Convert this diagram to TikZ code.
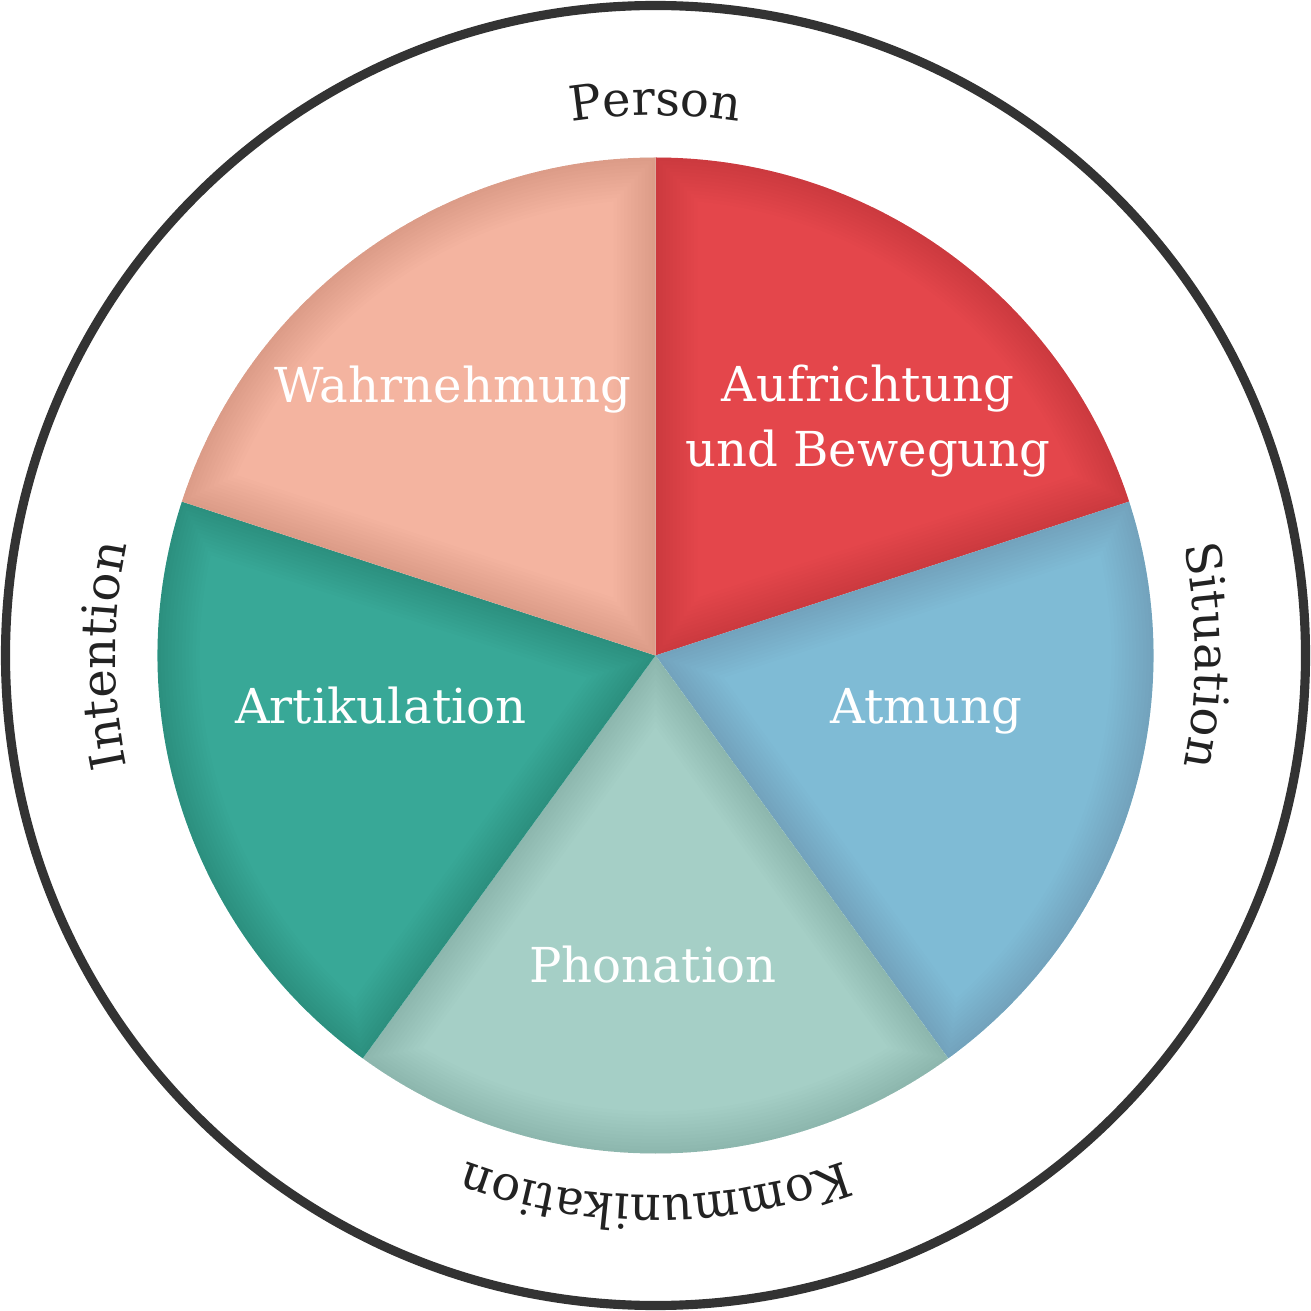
\documentclass[tikz,border=0pt]{standalone}
\usepackage{fontspec}
\setmainfont{DejaVu Serif}
\usetikzlibrary{decorations.text}
\definecolor{cRed}{HTML}{E4464B}
\definecolor{cPeach}{HTML}{F4B4A0}
\definecolor{cBlue}{HTML}{7FBBD5}
\definecolor{cLtTeal}{HTML}{A5CFC6}
\definecolor{cTeal}{HTML}{38A897}
\definecolor{cDark}{HTML}{333333}
\definecolor{cText}{HTML}{222222}
\newcommand{\lblfont}{\fontsize{13.7}{18.5}\selectfont}
\newcommand{\sectorpath}[2]{(0,0) -- (#1:\R) arc[start angle=#1, end angle=#2, radius=\R] -- cycle}
\newcommand{\drawsector}[3]{%
  \fill[#3] \sectorpath{#1}{#2};
  \begin{scope}
    \clip \sectorpath{#1}{#2};
    \foreach \w in {2,4,...,24} {
      \draw[line width=\w pt, black, opacity=0.007, line join=round] \sectorpath{#1}{#2};
    }
  \end{scope}}
\tikzset{
  inlabel/.style={text=white, font=\lblfont, align=center, inner sep=0pt},
  outerring/.style={draw=cDark, line width=2.6pt},
  arclabel/.style={decorate, decoration={text along path, text align=center,
      text format delimiters={|}{|}, text={|\lblfont\color{cText}|#1}}}
}
\begin{document}
\begin{tikzpicture}
\useasboundingbox (-6.555,-6.555) rectangle (6.555,6.555);
\def\R{4.98}
% outer ring
\draw[outerring] (0,0) circle[radius=6.5];
% sectors
\drawsector{18}{90}{cRed}
\drawsector{-54}{18}{cBlue}
\drawsector{-126}{-54}{cLtTeal}
\drawsector{162}{234}{cTeal}
\drawsector{90}{162}{cPeach}
% inner labels
\node[inlabel, anchor=base] (wahr) at (-2.025,2.525) {Wahrnehmung};
\node[inlabel, anchor=center] (aufr) at (2.125,2.345) {Aufrichtung\\und Bewegung};
\node[inlabel, anchor=base] (atm) at (2.705,-0.675) {Atmung};
\node[inlabel, anchor=base] (art) at (-2.745,-0.675) {Artikulation};
\node[inlabel, anchor=base] (phon) at (-0.025,-3.265) {Phonation};
% outer labels along the ring (clockwise, tops outward)
\path[arclabel={Person}] (120:5.40) arc[start angle=120, end angle=60, radius=5.40];
\path[arclabel={Situation}] (30:5.40) arc[start angle=30, end angle=-30, radius=5.40];
\path[arclabel={Kommunikation}] (300:5.40) arc[start angle=300, end angle=240, radius=5.40];
\path[arclabel={Intention}] (210:5.40) arc[start angle=210, end angle=150, radius=5.40];
\end{tikzpicture}
\end{document}
